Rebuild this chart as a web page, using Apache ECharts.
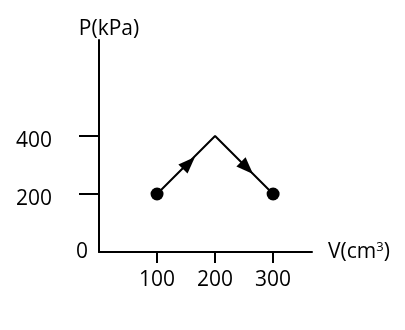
<!DOCTYPE html>
<html>
<head>
<meta charset="utf-8">
<script src="https://cdn.jsdelivr.net/npm/echarts@6/dist/echarts.min.js"></script>
<style>html,body{margin:0;padding:0;background:#fff}#c{width:405px;height:330px}</style>
</head>
<body>
<div id="c"></div>
<script>
var xTicks = [100, 200, 300];
var yTicks = [200, 400];
var pathPoints = [[100, 200], [200, 400], [300, 200]];
var endpointFlags = [true, false, true];
var arrowPoints = [[155, 307], [255, 290]];
var arrowAngles = [-45, -135];
var xName = 'V(cm';
var yName = 'P(kPa)';

var FONT = 'Open Sans';
var FS = 21;
var chart = echarts.init(document.getElementById('c'), null, {renderer: 'canvas'});
var lineData = pathPoints.map(function (p, i) {
  return endpointFlags[i] ? {value: p} : {value: p, symbol: 'none'};
});
var arrowData = arrowPoints.map(function (p, i) {
  return {value: p, symbolRotate: arrowAngles[i]};
});
chart.setOption({
  animation: false,
  grid: {left: 99, top: 40, right: 93, bottom: 78},
  xAxis: {
    type: 'value', min: 0, max: 367,
    name: '{a|' + xName + '}{s|3}{a|)}',
    nameLocation: 'end', nameGap: 16,
    nameTextStyle: {
      rich: {
        a: {fontFamily: FONT, fontSize: FS, color: '#000'},
        s: {fontFamily: FONT, fontSize: 13, color: '#000', verticalAlign: 'top', padding: [0, 0, 10, 0]}
      }
    },
    axisLine: {show: true, lineStyle: {color: '#000', width: 2}},
    axisTick: {show: true, customValues: xTicks, length: 11, lineStyle: {color: '#000', width: 2}},
    axisLabel: {customValues: xTicks, margin: 18, fontFamily: FONT, fontSize: FS, color: '#000'},
    splitLine: {show: false}
  },
  yAxis: [{
    type: 'value', min: 0, max: 731,
    name: yName, nameLocation: 'end', nameGap: 0,
    nameTextStyle: {fontFamily: FONT, fontSize: FS, color: '#000', align: 'center', padding: [0, 0, 0, 20]},
    axisLine: {show: true, lineStyle: {color: '#000', width: 2}},
    axisTick: {show: true, customValues: yTicks, length: 20, lineStyle: {color: '#000', width: 2}},
    axisLabel: {customValues: [0], margin: 11, fontFamily: FONT, fontSize: FS, color: '#000'},
    splitLine: {show: false}
  }, {
    type: 'value', min: 17, max: 748, position: 'left', offset: 0,
    axisLine: {show: false}, axisTick: {show: false},
    axisLabel: {customValues: yTicks, margin: 47, fontFamily: FONT, fontSize: FS, color: '#000'},
    splitLine: {show: false}
  }],
  series: [{
    type: 'line', data: lineData,
    symbol: 'circle', symbolSize: 13,
    lineStyle: {color: '#000', width: 2},
    itemStyle: {color: '#000'}
  }, {
    type: 'scatter', data: arrowData,
    symbol: 'triangle', symbolSize: [13, 17],
    itemStyle: {color: '#000', opacity: 1}
  }]
});
</script>
</body>
</html>
